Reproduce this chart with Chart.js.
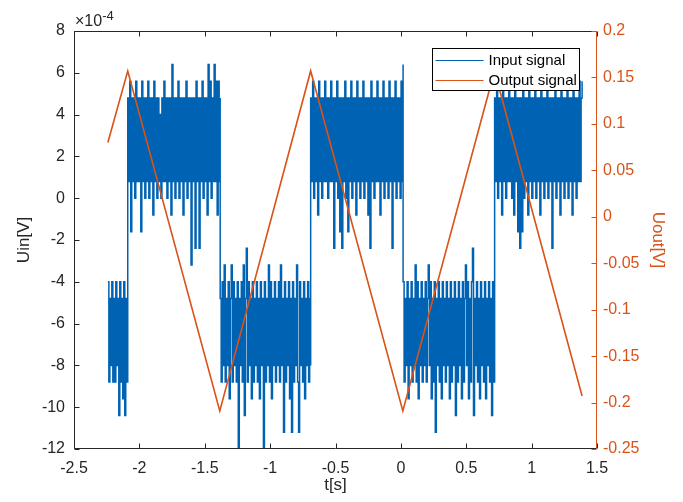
<!DOCTYPE html>
<html>
<head>
<meta charset="utf-8">
<script src="https://cdn.jsdelivr.net/npm/chart.js@4.4.1/dist/chart.umd.min.js"></script>
<style>
  html, body { margin: 0; padding: 0; background: #fff; }
</style>
</head>
<body>
<canvas id="chart" width="683" height="502"></canvas>
<script>
// ------------------------------------------------------------------
// Data (input in units of 1e-4 V, output in V)
// ------------------------------------------------------------------

// switching instants of the square wave [s]
const inEdges = [-2.241, -2.089, -1.382, -0.690, 0.017, 0.717, 1.386];

// samples of each half period (1e-4 V)
const inSeg1 = [-4.0,-8.8,-4.8,-8.0,-4.0,-8.8,-4.8,-8.8,-4.0,-8.0,-4.8,-10.4,-4.0,-8.8,-4.8,-9.6,-4.0,-10.4,-4.8,-8.8,-4.0];
const inSeg2 = [
    4.8,0.8,5.6,-1.6,4.8,0.8,4.8,0,5.6,0.8,
    4.8,0.8,4.8,-1.6,5.6,0.8,4.8,0,4.8,0.8,
    5.6,0,4.8,0.8,4.8,-0.8,5.6,0.8,4.8,0,
    4.8,0.8,4.0,0,4.8,0.8,5.6,0.8,4.8,0,
    4.8,0.8,4.8,-0.8,6.4,0.8,4.8,0,4.8,0.8,
    5.6,0,4.8,0.8,4.8,-0.8,4.8,0.8,5.6,0,
    4.8,0.8,4.8,-3.2,4.8,0.8,4.8,-2.4,5.6,0.8,
    4.8,-2.4,4.8,0.8,5.6,0,4.8,0.8,4.8,-0.8,
    6.4,0.8,5.6,0,4.8,0.8,6.4,0.8,5.6,-0.8,
    5.6,0.8,4.8
];
const inSeg3 = [
    -4.8,-8.8,-4.0,-8.0,-3.2,-8.8,-4.8,-8.0,-4.0,-9.6,
    -4.8,-3.2,-8.8,-4.0,-8.0,-4.8,-8.8,-4.0,-12.0,-4.8,
    -8.0,-4.0,-8.8,-3.2,-10.4,-4.8,-2.4,-8.8,-4.0,-8.0,
    -4.8,-9.6,-4.0,-8.8,-4.8,-8.0,-4.0,-8.8,-4.8,-9.6,
    -4.0,-8.0,-4.8,-12.0,-4.0,-8.8,-4.8,-8.0,-3.2,-8.8,
    -4.0,-9.6,-4.8,-8.0,-4.0,-8.8,-4.8,-8.0,-4.0,-8.8,
    -3.2,-8.0,-4.8,-11.2,-4.0,-8.8,-4.8,-8.0,-4.0,-9.6,
    -4.8,-11.2,-4.0,-8.8,-4.8,-8.0,-3.2,-8.8,-11.2,-4.0,
    -8.0,-4.8,-8.8,-4.0,-9.6,-4.8,-8.0,-4.0,-8.8,-4.8,
    -8.0
];
const inSeg4 = [
    4.8,0.8,5.6,0,4.8,0.8,4.8,-0.8,5.6,0.8,
    4.8,0,4.8,0.8,5.6,0.8,4.8,0,4.8,0.8,
    5.6,0.8,4.8,-2.4,4.8,0.8,5.6,0,4.8,-1.6,
    4.8,-2.4,4.8,0.8,5.6,0,4.8,-1.6,4.8,0.8,
    5.6,0,4.8,0.8,4.8,-0.8,5.6,0.8,4.8,0,
    4.8,0.8,5.6,0,4.8,0.8,4.8,-0.8,4.8,-2.4,
    5.6,0.8,4.8,0,4.8,0.8,5.6,0.8,4.8,-0.8,
    4.8,0.8,5.6,0,4.8,0.8,4.8,0,5.6,0.8,
    4.8,-2.4,4.8,0.8,5.6,0,4.8,0.8,4.8,0,
    5.6,0.8,6.4
];
const inSeg5 = [
    -4.0,-8.8,-4.8,-8.0,-4.0,-9.6,-4.8,-8.0,-4.0,-8.8,
    -4.8,-8.0,-3.2,-8.8,-4.0,-9.6,-4.8,-8.0,-4.0,-8.8,
    -4.8,-8.0,-4.0,-8.8,-4.8,-3.2,-8.0,-4.0,-9.6,-4.8,
    -8.8,-4.0,-11.2,-4.8,-8.0,-4.0,-8.8,-4.8,-9.6,-4.0,
    -8.0,-4.8,-8.8,-4.0,-8.0,-4.8,-9.6,-4.0,-8.8,-4.8,
    -8.0,-4.0,-10.4,-4.8,-8.8,-4.0,-8.0,-4.8,-9.6,-4.0,
    -8.8,-4.8,-3.2,-8.0,-4.0,-9.6,-4.8,-8.8,-4.0,-2.4,
    -10.4,-4.8,-8.0,-4.0,-8.8,-4.8,-9.6,-4.0,-8.0,-4.8,
    -8.8,-4.0,-9.6,-4.8,-8.0,-4.0,-8.8,-4.8,-10.4,-4.0,
    -8.8,-4.8
];
const inSeg6 = [
    4.8,0.8,5.6,0,4.8,0.8,4.8,-0.8,5.6,0.8,
    4.8,0,4.8,0.8,5.6,0.8,4.8,0,4.8,-0.8,
    5.6,0.8,4.8,-1.6,4.8,-2.4,4.8,-1.6,5.6,0,
    4.8,0.8,4.8,-0.8,5.6,0.8,4.8,0,4.8,0.8,
    5.6,0,4.8,0.8,4.8,-0.8,5.6,0.8,4.8,0,
    4.8,0.8,5.6,0,4.8,0.8,4.8,-2.4,4.8,0.8,
    5.6,0,4.8,0.8,4.8,-0.8,5.6,0.8,4.8,0,
    4.8,0.8,5.6,0,4.8,0.8,4.8,-0.8,5.6,0.8,
    4.8,0,4.8,0.8,5.6,0.8,4.8,5.6
];
const inSegments = [inSeg1, inSeg2, inSeg3, inSeg4, inSeg5, inSeg6];

// output triangle: corner times [s] and values [V]
const outTimes  = [-2.241, -2.089, -1.385, -0.690, 0.015, 0.716, 1.386];
const outValues = [0.080, 0.157, -0.209, 0.157, -0.209, 0.157, -0.193];

// axis ticks
const xTicks  = [-2.5, -2, -1.5, -1, -0.5, 0, 0.5, 1, 1.5];
const yTicks  = [-12, -10, -8, -6, -4, -2, 0, 2, 4, 6, 8];
const y1Ticks = [-0.25, -0.2, -0.15, -0.1, -0.05, 0, 0.05, 0.1, 0.15, 0.2];

// ------------------------------------------------------------------
// Style
// ------------------------------------------------------------------
const BLUE = '#0062B2';
const ORANGE = '#D95319';
const AXIS_COLOR = '#262626';
const FONT = "'Liberation Sans', Arial, Helvetica, sans-serif";
const TICK_LEN = 5;

// samples of a half period are spread evenly between its two edges
const inPoints = [];
inSegments.forEach((seg, k) => {
    const t0 = inEdges[k], t1 = inEdges[k + 1];
    seg.forEach((v, i) => {
        inPoints.push({ x: t0 + (t1 - t0) * i / (seg.length - 1), y: v });
    });
});
const outPoints = outTimes.map((t, i) => ({ x: t, y: outValues[i] }));

const fmt = v => String(Number(Number(v).toFixed(2)));

// MATLAB-like box, inward ticks, exponent label and legend
const matlabAxes = {
    id: 'matlabAxes',
    afterDatasetsDraw(chart) {
        const { ctx, chartArea: a, scales } = chart;
        const L = a.left + 0.5, R = a.right - 0.5, T = a.top + 0.5, B = a.bottom - 0.5;
        ctx.save();
        ctx.lineWidth = 1;

        ctx.strokeStyle = AXIS_COLOR;
        ctx.beginPath();
        xTicks.forEach(v => {
            const px = Math.round(scales.x.getPixelForValue(v)) + 0.5;
            ctx.moveTo(px, B); ctx.lineTo(px, B - TICK_LEN);
            ctx.moveTo(px, T); ctx.lineTo(px, T + TICK_LEN);
        });
        yTicks.forEach(v => {
            const py = Math.round(scales.y.getPixelForValue(v)) + 0.5;
            ctx.moveTo(L, py); ctx.lineTo(L + TICK_LEN, py);
        });
        ctx.moveTo(R, T); ctx.lineTo(L, T); ctx.lineTo(L, B); ctx.lineTo(R, B);
        ctx.stroke();

        ctx.strokeStyle = ORANGE;
        ctx.beginPath();
        y1Ticks.forEach(v => {
            const py = Math.round(scales.y1.getPixelForValue(v)) + 0.5;
            ctx.moveTo(R, py); ctx.lineTo(R - TICK_LEN, py);
        });
        ctx.moveTo(R, T); ctx.lineTo(R, B);
        ctx.stroke();

        // x10^-4 exponent
        ctx.fillStyle = AXIS_COLOR;
        ctx.textBaseline = 'alphabetic';
        ctx.textAlign = 'left';
        ctx.font = '16px ' + FONT;
        ctx.fillText('\u00d710', a.left + 1, a.top - 5);
        const w = ctx.measureText('\u00d710').width;
        ctx.font = '13px ' + FONT;
        ctx.fillText('-4', a.left + 1 + w, a.top - 11);

        // legend
        const bw = 147, bh = 42;
        const bx = Math.round(a.right - 18 - bw) + 0.5, by = Math.round(a.top + 17) + 0.5;
        ctx.fillStyle = '#fff';
        ctx.fillRect(bx, by, bw, bh);
        ctx.strokeStyle = '#000';
        ctx.strokeRect(bx, by, bw, bh);
        ctx.font = '15px ' + FONT;
        ctx.textBaseline = 'middle';
        chart.data.datasets.forEach((ds, i) => {
            const ry = by + 12 + i * 20;
            ctx.strokeStyle = ds.borderColor;
            ctx.lineWidth = 1;
            ctx.beginPath();
            ctx.moveTo(bx + 3, ry); ctx.lineTo(bx + 51, ry);
            ctx.stroke();
            ctx.fillStyle = '#000';
            ctx.fillText(ds.label, bx + 56, ry);
        });
        ctx.restore();
    }
};

new Chart(document.getElementById('chart'), {
    type: 'line',
    data: {
        datasets: [
            {
                label: 'Input signal',
                data: inPoints,
                yAxisID: 'y',
                borderColor: BLUE,
                borderWidth: 1.5,
                pointRadius: 0,
                stepped: true,
                order: 2
            },
            {
                label: 'Output signal',
                data: outPoints,
                yAxisID: 'y1',
                borderColor: ORANGE,
                borderWidth: 1.6,
                pointRadius: 0,
                tension: 0,
                order: 1
            }
        ]
    },
    options: {
        responsive: false,
        animation: false,
        layout: { padding: { top: 31, left: 0, right: 0, bottom: 0 } },
        plugins: {
            legend: { display: false },
            tooltip: { enabled: false }
        },
        scales: {
            x: {
                type: 'linear',
                min: -2.5,
                max: 1.5,
                afterBuildTicks: s => { s.ticks = xTicks.map(v => ({ value: v })); },
                ticks: { callback: fmt, color: AXIS_COLOR, padding: 10, maxRotation: 0, font: { family: FONT, size: 16 } },
                grid: { display: false, drawTicks: false },
                border: { display: false },
                title: { display: true, text: 't[s]', color: AXIS_COLOR, padding: { top: 0, bottom: 6 }, font: { family: FONT, size: 17 } },
                afterFit: s => { s.height = 53; }
            },
            y: {
                type: 'linear',
                position: 'left',
                min: -12,
                max: 8,
                afterBuildTicks: s => { s.ticks = yTicks.map(v => ({ value: v })); },
                ticks: { callback: fmt, color: AXIS_COLOR, padding: 9, font: { family: FONT, size: 16 } },
                grid: { display: false, drawTicks: false },
                border: { display: false },
                title: { display: true, text: 'Uin[V]', color: AXIS_COLOR, padding: { top: 14, bottom: 0 }, font: { family: FONT, size: 17 } },
                afterFit: s => { s.width = 74; }
            },
            y1: {
                type: 'linear',
                position: 'right',
                min: -0.25,
                max: 0.2,
                afterBuildTicks: s => { s.ticks = y1Ticks.map(v => ({ value: v })); },
                ticks: { callback: fmt, color: ORANGE, padding: 6, font: { family: FONT, size: 16 } },
                grid: { display: false, drawTicks: false },
                border: { display: false },
                title: { display: true, text: 'Uout[V]', color: ORANGE, padding: { top: 15, bottom: 0 }, font: { family: FONT, size: 17 } },
                afterFit: s => { s.width = 86; }
            }
        }
    },
    plugins: [matlabAxes]
});
</script>
</body>
</html>
